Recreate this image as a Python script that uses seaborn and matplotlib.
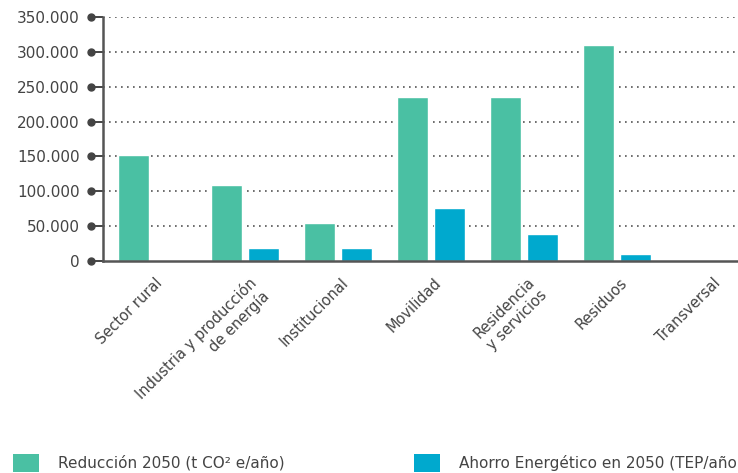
import matplotlib
matplotlib.use("Agg")
import matplotlib.pyplot as plt
import matplotlib.transforms as mtransforms
from matplotlib.patches import Patch
import seaborn as sns
import pandas as pd

categories = ["Sector rural", "Industria y producción\nde energía", "Institucional",
              "Movilidad", "Residencia\ny servicios", "Residuos", "Transversal"]
reduccion = [152000, 109000, 54500, 235000, 235000, 310000, 0]
ahorro = [0, 18500, 19000, 76000, 38500, 10000, 0]
series = ["Reducción 2050 (t CO² e/año)", "Ahorro Energético en 2050 (TEP/año)"]
yticks = [0, 50000, 100000, 150000, 200000, 250000, 300000, 350000]
ytick_labels = ["0", "50.000", "100.000", "150.000", "200.000", "250.000", "300.000", "350.000"]

df = pd.DataFrame({
    "cat": categories * 2,
    "serie": [series[0]] * len(categories) + [series[1]] * len(categories),
    "valor": reduccion + ahorro,
})

GREEN = "#4AC0A3"
BLUE = "#00A9CE"
TXT = "#444444"

sns.set_style("white")
plt.rcParams["font.family"] = ["DejaVu Sans"]

W, H = 738, 473
fig = plt.figure(figsize=(W / 100, H / 100), dpi=100)
ax_l, ax_r, ax_t, ax_b = 103, 759, 17, 261
ax = fig.add_axes([ax_l / W, 1 - ax_b / H, (ax_r - ax_l) / W, (ax_b - ax_t) / H])

sns.barplot(data=df, x="cat", y="valor", hue="serie", order=categories,
            hue_order=series, palette=[GREEN, BLUE], errorbar=None,
            width=0.8, gap=0.16, dodge=True, ax=ax, legend=False, saturation=1)

ax.set_xlim(-0.527, 6.527)
ax.set_ylim(0, 350000)
ax.set_yticks(yticks)
ax.set_yticklabels(ytick_labels)
ax.set_xticks(range(len(categories)))
ax.set_xticklabels(categories)
ax.set_xlabel("")
ax.set_ylabel("")

for s in ["top", "right"]:
    ax.spines[s].set_visible(False)
for s in ["left", "bottom"]:
    ax.spines[s].set_color("#555555")
    ax.spines[s].set_linewidth(1.8)

ax.tick_params(axis="y", left=True, length=8.6, width=1.4, color="#444444", pad=8,
               labelsize=11, labelcolor=TXT)
ax.tick_params(axis="x", bottom=False, length=0, pad=10, labelsize=10.5, labelcolor=TXT)
ax.yaxis.grid(True, linestyle=(0, (1, 2.6)), color="#555555", linewidth=1.2)
ax.xaxis.grid(False)
ax.set_axisbelow(True)
for gl, y in zip(ax.get_ygridlines(), yticks):
    if y == 0:
        gl.set_visible(False)

# dots at tick ends
trans = mtransforms.blended_transform_factory(ax.transAxes, ax.transData)
ax.plot([-12 / (ax_r - ax_l)] * len(yticks), yticks, "o", ms=5, color="#444444",
        transform=trans, clip_on=False, zorder=5)

offset = mtransforms.ScaledTranslation(3 / 100, 0, fig.dpi_scale_trans)
for lbl in ax.get_xticklabels():
    lbl.set_rotation(45)
    lbl.set_ha("right")
    lbl.set_va("top")
    lbl.set_rotation_mode("anchor")
    lbl.set_multialignment("right")
    lbl.set_transform(lbl.get_transform() + offset)

handles = [Patch(facecolor=GREEN, edgecolor="none"), Patch(facecolor=BLUE, edgecolor="none")]
fig.legend(handles, series, loc="lower left", bbox_to_anchor=(13 / W, 1 / H),
           ncol=2, frameon=False, fontsize=11, handlelength=1.7, handleheight=1.45,
           handletextpad=1.24, columnspacing=8.5, borderpad=0, borderaxespad=0,
           labelcolor=TXT)

fig.savefig("out.png", dpi=100)
